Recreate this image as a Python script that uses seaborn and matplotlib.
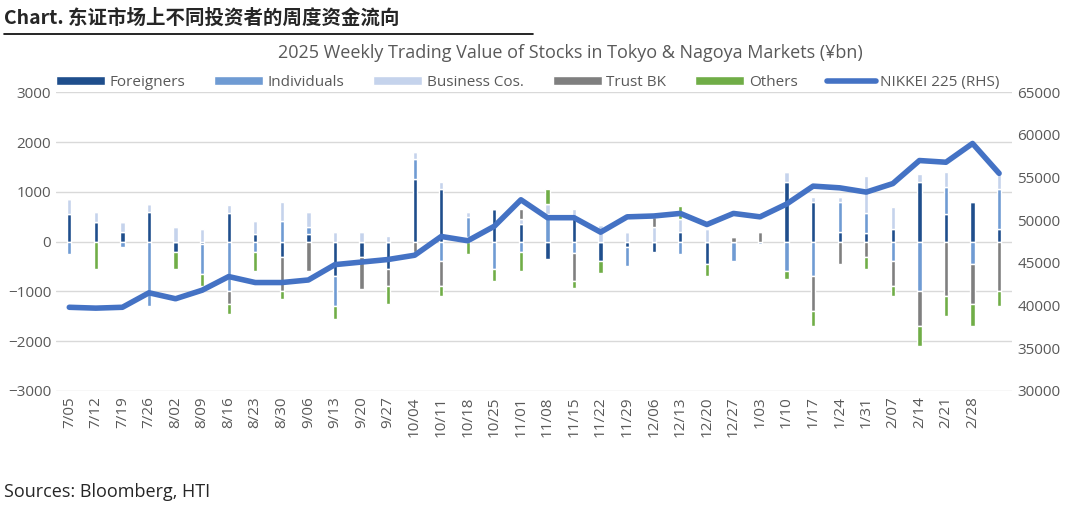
import numpy as np
import pandas as pd
import matplotlib
matplotlib.use("Agg")
import matplotlib.pyplot as plt
import seaborn as sns

# Dane tygodniowe (¥bn)
weeks = ["7/05", "7/12", "7/19", "7/26", "8/02", "8/09", "8/16", "8/23", "8/30", "9/06",
         "9/13", "9/20", "9/27", "10/04", "10/11", "10/18", "10/25", "11/01", "11/08", "11/15",
         "11/22", "11/29", "12/06", "12/13", "12/20", "12/27", "1/03", "1/10", "1/17", "1/24",
         "1/31", "2/07", "2/14", "2/21", "2/28", ""]
foreigners = [550, 400, 200, 600, -200, -50, 580, 150, -300, 150, -700, -300, -550, 1250, 1050, 100,
              650, 350, -350, 500, -400, -100, -200, 200, -450, 0, 0, 1200, 800, 200, 170, 250,
              1200, 550, 800, 250]
individuals = [-250, 0, -100, -1300, 0, -600, -1000, -200, 420, 150, -600, 0, 0, 400, -400, 400,
               -550, -200, 550, -230, 0, -400, 0, -250, 0, -400, -50, -600, -700, 600, 400, -400,
               -1000, 550, -450, 800]
business = [300, 200, 200, 150, 300, 250, 150, 270, 380, 300, 200, 200, 120, 150, 150, 100,
            0, 100, 200, 150, 330, 200, 300, 250, 250, 0, 0, 200, 100, 100, 750, 450,
            150, 300, 0, 350]
trust = [0, 0, 0, 0, 0, 0, -250, 0, -700, -600, 0, -650, -350, -200, -500, 0,
         0, 200, 0, -570, 0, 0, 200, 0, 0, 100, 200, 0, -700, -450, -300, -500,
         -700, -1100, -800, -1000]
others = [0, -550, 0, 0, -350, -250, -200, -400, -150, 0, -250, 0, -350, 0, -200, -250,
          -250, -400, 300, -130, -230, 0, 0, 270, -250, 0, 0, -150, -300, 0, -250, -200,
          -400, -400, -450, -300]
nikkei = [39800, 39700, 39800, 41500, 40800, 41800, 43400, 42700, 42700, 43000, 44800, 45100,
          45400, 45900, 48100, 47600, 49300, 52400, 50300, 50300, 48600, 50400, 50500, 50800,
          49500, 50800, 50400, 51900, 54000, 53800, 53300, 54300, 57000, 56800, 59000, 55500]

series = {
    "Foreigners": (foreigners, "#1f4e8c"),
    "Individuals": (individuals, "#6f9bd3"),
    "Business Cos.": (business, "#c5d3ec"),
    "Trust BK": (trust, "#7f7f7f"),
    "Others": (others, "#70ad47"),
}

sns.set_style("white")
plt.rcParams["font.family"] = ["Open Sans", "DejaVu Sans"]
grey = "#595959"

fig = plt.figure(figsize=(10.77, 5.07), dpi=100)
ax = fig.add_axes([0.052, 0.229, 0.888, 0.589])
x = np.arange(len(weeks))

# Słupki skumulowane – osobno dodatnie i ujemne
pos_bottom = np.zeros(len(weeks))
neg_bottom = np.zeros(len(weeks))
for name, (vals, col) in series.items():
    v = np.array(vals, dtype=float)
    bottom = np.where(v >= 0, pos_bottom, neg_bottom)
    ax.bar(x, v, bottom=bottom, width=0.16, color=col, label=name, zorder=2)
    pos_bottom += np.clip(v, 0, None)
    neg_bottom += np.clip(v, None, 0)

ax.set_ylim(-3000, 3000)
ax.set_yticks(range(-3000, 3001, 1000))
ax.set_xlim(-0.5, len(weeks) - 0.5)
ax.set_xticks(x)
ax.set_xticklabels(weeks, rotation=90, fontsize=11, color=grey)
ax.tick_params(axis="y", labelsize=11, labelcolor=grey, length=0)
ax.tick_params(axis="x", length=0, pad=4)
ax.grid(axis="y", color="#d9d9d9", lw=1, zorder=0)
for s in ax.spines.values():
    s.set_visible(False)

ax2 = ax.twinx()
df = pd.DataFrame({"x": x, "nikkei": nikkei})
sns.lineplot(data=df, x="x", y="nikkei", ax=ax2, color="#4472c4", lw=4,
             label="NIKKEI 225 (RHS)", legend=False, zorder=3)
ax2.set_ylim(30000, 65000)
ax2.set_yticks(range(30000, 65001, 5000))
ax2.tick_params(axis="y", labelsize=11, labelcolor=grey, length=0)
ax2.set_xlabel("")
ax2.set_ylabel("")
for s in ax2.spines.values():
    s.set_visible(False)

h1, l1 = ax.get_legend_handles_labels()
h2, l2 = ax2.get_legend_handles_labels()
fig.legend(h1 + h2, l1 + l2, loc="center", bbox_to_anchor=(0.49, 0.838), ncol=6,
           frameon=False, fontsize=11, labelcolor=grey, handlelength=3.2,
           handleheight=0.5, columnspacing=1.9, handletextpad=0.3)

fig.text(0.53, 0.895, "2025 Weekly Trading Value of Stocks in Tokyo & Nagoya Markets (¥bn)",
         ha="center", va="center", fontsize=13, color=grey)
fig.text(0.004, 0.965, "Chart. 东证市场上不同投资者的周度资金流向", ha="left", va="center",
         fontsize=14, fontweight="bold", family=["Noto Sans CJK SC", "DejaVu Sans"])
fig.add_artist(plt.Line2D([0.004, 0.495], [0.932, 0.932], color="black", lw=1.2))
fig.text(0.004, 0.03, "Sources: Bloomberg, HTI", ha="left", va="center", fontsize=13)

fig.savefig("out.png", dpi=100)
